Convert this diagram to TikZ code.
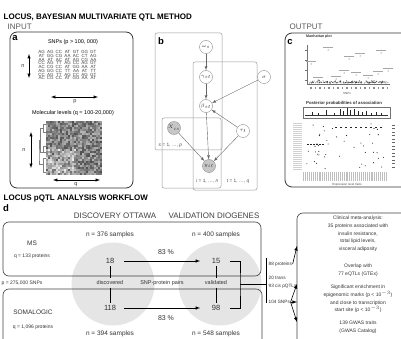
\documentclass[tikz,border=0pt]{standalone}
\usepackage{fontspec}
\setmainfont{Liberation Sans}
\setsansfont{Liberation Sans}
\usetikzlibrary{positioning,calc}
\pgfdeclarelayer{background}
\pgfsetlayers{background,main}

\newcommand{\fs}[1]{\fontsize{#1}{#1}\selectfont}

\begin{document}
\begin{tikzpicture}[
  x=1pt, y=-1pt, >=latex,
  every node/.style={inner sep=0.5pt, text=black!80, font=\fs{5}},
  head/.style={anchor=west, text=black, font=\fs{8}\bfseries},
  sect/.style={anchor=west, text=black!65, font=\fs{8}},
  study/.style={text=black!75, font=\fs{8}},
  letter/.style={text=black, font=\fs{9.5}\bfseries},
  panel/.style={draw=black!80, line width=0.8pt, rounded corners=7pt},
  plate/.style={draw=black!40, line width=0.5pt, rounded corners=2pt},
  platelbl/.style={font=\fs{4.8}, text=black!70},
  var/.style={circle, draw=black!45, fill=white, minimum size=13pt, inner sep=0pt, font=\fs{5.5}},
  obs/.style={var, fill=black!22},
  edge/.style={draw=black!60, line width=0.4pt, ->},
  snp/.style={font=\fs{4.5}, text=black!75, inner sep=0pt},
  box/.style={draw=black!75, line width=0.6pt, rounded corners=6pt},
  num/.style={font=\fs{7.5}, text=black!80},
  tiny/.style={font=\fs{3}, text=black!70},
  res/.style={align=center, font=\fontsize{5}{7.7}\selectfont}
  ]

  \path[use as bounding box, clip] (0,0) rectangle (401,339);

  \node (ttl1) [head] at (3,17) {LOCUS, BAYESIAN MULTIVARIATE QTL METHOD};
  \node (inp) [sect] at (7,27) {INPUT};
  \node (outp) [sect] at (289,27) {OUTPUT};

  % a: input data
  \draw[panel] (10,32) rectangle (133,188);
  \node (la) [letter] at (15,38) {a};
  \node (snpttl) [font=\fs{5.5}, text=black] at (73,42) {SNPs (p > 100, 000)};
  \foreach \row [count=\r] in {
    {AG,AG,CC,AT,GT,GG,GT},
    {AT,GG,CG,AA,AC,CT,AG},
    {AA,AT,AC,AT,AG,CG,AA},
    {CC,AG,TT,AG,CC,AG,GT},
    {AC,CG,CC,AT,GG,AA,AT},
    {AG,GG,CC,TT,AA,AT,TT},
    {CC,AG,TT,AG,CC,AG,GT},
    {AC,CG,CC,AT,GG,AA,AT}}
    \foreach \g [count=\c] in \row
      \node (g\r\c) [snp] at (33.1+8.6*\c, 48.6+3.71*\r) {\g};
  \draw[<->, line width=0.5pt] (29,54) -- (29,78);
  \node (na) [font=\fs{5.5}] at (23,66) {n};
  \draw[<->, line width=0.5pt] (51,97) -- (98,97);
  \node (pa) [font=\fs{5.5}] at (75,102) {p};

  \node (molttl) [font=\fs{5.5}, text=black] at (73,113) {Molecular levels (q = 100-20,000)};
  \pgfmathsetseed{11}
  \foreach \i in {0,...,27}
    \foreach \j in {0,...,26} {
      \pgfmathsetmacro{\gv}{int(max(8, 28+42*rnd - 30*(\j>13)*(\i<15)*rnd))}
      \fill[black!\gv] (46+2*\i, 121+2*\j) rectangle +(2.05,2.05);
    }
  \draw[black!50, line width=0.3pt]
    (46,124) -| (43.5,128) |- (46,132)
    (43.5,128) -| (40.5,140) |- (46,152)
    (46,146) -| (43.5,152)
    (46,158) -| (43.5,164) |- (46,172)
    (43.5,164) -| (39,158) |- (40.5,140);
  \draw[<->, line width=0.5pt] (31,132) -- (31,168);
  \node (nb) [font=\fs{5.5}] at (24,150) {n};
  \draw[<->, line width=0.5pt] (53,180) -- (100,180);
  \node (qb) [font=\fs{5.5}] at (76,185) {q};

  % b: graphical model
  \draw[plate] (155,33) rectangle (222,150);
  \draw[plate] (162,118) rectangle (221,188);
  \draw[plate] (193,62) rectangle (257,190);
  \node (lb) [letter] at (161,41) {b};
  \node (om) [var] at (206,47) {$\omega_s$};
  \node (gam) [var] at (206,77) {$\gamma_{st}$};
  \node (bet) [var] at (206,106) {$\beta_{st}$};
  \node (sig) [var] at (264,77) {$\sigma$};
  \node (tau) [var] at (243,131) {$\tau_t$};
  \node (xis) [obs] at (174,128) {$X_{is}$};
  \node (yit) [obs] at (209,166) {$y_{it}$};
  \node (splate) [platelbl, anchor=west] at (158,145) {\textit{s} = 1, \dots, \textit{p}};
  \node (iplate) [platelbl, anchor=east] at (219,181) {\textit{i} = 1, \dots, \textit{n}};
  \node (tplate) [platelbl] at (238,181) {\textit{t} = 1, \dots, \textit{q}};
  \path [edge] (om) -- (gam);
  \path [edge] (gam) -- (bet);
  \path [edge] (sig) -- (bet);
  \path [edge] (tau) -- (bet);
  \path [edge] (bet) -- (yit);
  \path [edge] (xis) -- (yit);
  \path [edge] (tau) -- (yit);

  % c: output
  \draw[panel] (285,33) rectangle (414,187);
  \node (lc) [letter] at (290,42) {c};
  \node (manttl) [font=\fs{3.6}\bfseries] at (319,37) {Manhattan plot};
  \draw[black!55, line width=0.3pt] (307,45) -- (307,84) -- (390,84);
  \foreach \t in {50,60,70,80}
    \draw[black!55, line width=0.3pt] (305,\t) -- (307,\t);
  \foreach \k in {1,...,160}
    \fill[black!80] ({309+79*rnd},{83-3*rnd*rnd}) circle (0.45);
  \foreach \px/\py in {328/47,311/61,349/56,360/53,381/50,344/70,356/72,378/71,318/77,336/76,368/75,388/68}{
    \fill[black!80] (\px,\py+3) circle (0.5);
    \draw[black!35, line width=0.7pt] (\px-5,\py) -- (\px+5,\py);
  }
  \foreach \k in {0,...,17}
    \fill[black!45] (310+4.5*\k,87.5) rectangle +(1.5,1.2);
  \node (snpx) [tiny] at (347,93) {SNPs};

  \node (postttl) [font=\fs{4.3}\bfseries] at (344,103) {Posterior probabilities of association};
  \draw[black!55, line width=0.3pt] (303,107) rectangle (390,118);
  \draw[black!80, line width=0.4pt] (305,115.5) -- (388,115.5);
  \foreach \sx/\sh in {312/3,318/2,326/5,334/2,340/6,343/4,347/7,350/5,354/6,358/4,362/3,366/4,371/2,376/3,381/2}
    \draw[black!85, line width=0.5pt] (\sx,115.5) -- (\sx,115.5-\sh);

  \fill[black!18] (293,123) rectangle (302,170);
  \foreach \k in {0,...,23}
    \draw[white, line width=0.3pt] (293,124+2*\k) -- (302,124+2*\k);
  \foreach \k in {1,...,45}
    \fill[black!85] ({306+80*rnd},{123+47*rnd}) circle (0.55);
  \foreach \k in {0,...,9}
    \fill[black!85] (335+5*\k,127) rectangle +(2,1.2);
  \foreach \k in {0,...,5}
    \fill[black!85] (307+3*\k,144) rectangle +(2,1);
  \foreach \k in {0,...,12}
    \fill[black!60] (392,125+3.5*\k) rectangle +(3,1);
  \fill[black!25] (303,172) rectangle (388,181);
  \foreach \k in {0,...,40}
    \draw[white, line width=0.25pt] (304+2.08*\k,172) -- (304+2.08*\k,181);
  \node (exprl) [tiny] at (347,185) {Expression level traits};

  % d: workflow
  \node (ttl2) [head] at (3,199) {LOCUS pQTL ANALYSIS WORKFLOW};
  \node (ld) [letter] at (6,208) {d};
  \node (disco) [study] at (115,216) {DISCOVERY OTTAWA};
  \node (valid) [study] at (214,216) {VALIDATION DIOGENES};

  \begin{pgfonlayer}{background}
    \node (dcirc) [circle, fill=black!10, minimum size=83pt] at (113,284) {};
    \node (vcirc) [circle, fill=black!10, minimum size=83pt] at (220,284) {};
  \end{pgfonlayer}
  \draw[box] (3,222) rectangle (261,276);
  \draw[box] (3,289) rectangle (262,360);

  \node (ms) [font=\fs{6.5}] at (32,243) {MS};
  \node (msq) at (32,256) {q = 133 proteins};
  \node (snps) at (22,283) {p = 275,000 SNPs};
  \node (soma) [font=\fs{6.5}] at (33,312) {SOMALOGIC};
  \node (somq) at (33,327) {q = 1,096 proteins};
  \node (nms) [font=\fs{6.5}] at (110,235) {n = 376 samples};
  \node (nsoma) [font=\fs{6.5}] at (110,334) {n = 394 samples};
  \node (nmsv) [font=\fs{6.5}] at (216,235) {n = 400 samples};
  \node (nsomav) [font=\fs{6.5}] at (216,334) {n = 548 samples};

  \node (n18) [num] at (110,261) {18};
  \node (disc) [font=\fs{5.5}] at (110,283) {discovered};
  \node (n118) [num] at (110,308) {118};
  \node (n15) [num] at (216,261) {15};
  \node (val) [font=\fs{5.5}] at (216,283) {validated};
  \node (n98) [num] at (216,308) {98};
  \node (pairs) [font=\fs{5.5}] at (162,283) {SNP-protein pairs};
  \path [draw, line width=0.5pt, shorten <=2pt, shorten >=2pt] (n18) -- (disc);
  \path [draw, line width=0.5pt, shorten <=2pt, shorten >=2pt] (disc) -- (n118);
  \path [draw, line width=0.5pt, shorten <=2pt, shorten >=2pt] (n15) -- (val);
  \path [draw, line width=0.5pt, shorten <=2pt, shorten >=2pt] (val) -- (n98);

  \path [draw, line width=0.6pt, ->] ([xshift=9pt]n18.east) -- ([xshift=-11pt]n15.west);
  \path [draw, line width=0.6pt, ->] ([xshift=7pt]n118.east) -- ([xshift=-11pt]n98.west);
  \node (pct1) [font=\fs{7}] at (166,252) {83 \%};
  \node (pct2) [font=\fs{7}] at (166,318) {83 \%};

  \coordinate (bm) at (240,284);
  \coordinate (barmid) at (266,284);
  \coordinate (bartop) at (266,258);
  \coordinate (barbot) at (266,303);
  \path [draw, line width=0.6pt] ([xshift=9pt]n15.east) -| (bm) |- ([xshift=9pt]n98.east);
  \path [draw, line width=0.6pt] (bm) -- (barmid);
  \path [draw, line width=1pt] (bartop) -- (barbot);

  \node (p88) [anchor=west, font=\fs{4.7}] at (268,264) {88 proteins};
  \node (ptrans) [anchor=west, font=\fs{4.7}] at (268,278) {20 trans};
  \node (pcis) [anchor=west, font=\fs{4.7}] at (268,286) {93 cis pQTLs};
  \node (p104) [anchor=west, font=\fs{4.7}] at (268,302) {104 SNPs};

  \draw[box] (297,213) rectangle (420,360);
  \coordinate (e1) at (297,246);
  \coordinate (e2) at (297,284);
  \coordinate (e3) at (297,302);
  \coordinate (e4) at (297,322);
  \path [draw, line width=0.6pt, ->] (p88.east) -- (e1);
  \path [draw, line width=0.6pt, ->] (p104.east) -- (e2);
  \path [draw, line width=0.6pt, ->] (p104.east) -- (e3);
  \path [draw, line width=0.6pt, ->] (p104.east) -- (e4);

  \node (res1) [res] at (358,234) {Clinical meta-analysis:\\35 proteins associated with\\insulin resistance,\\total lipid levels,\\visceral adiposity};
  \node (res2) [res] at (358,270.5) {Overlap with\\77 eQTLs (GTEx)};
  \node (res3) [res] at (358,299) {Significant enrichment in\\epigenomic marks (p < 10$^{-3}$)\\and close to transcription\\start site (p < 10$^{-3}$)};
  \node (res4) [res] at (358,327) {139 GWAS traits\\(GWAS Catalog)};
\end{tikzpicture}
\end{document}
